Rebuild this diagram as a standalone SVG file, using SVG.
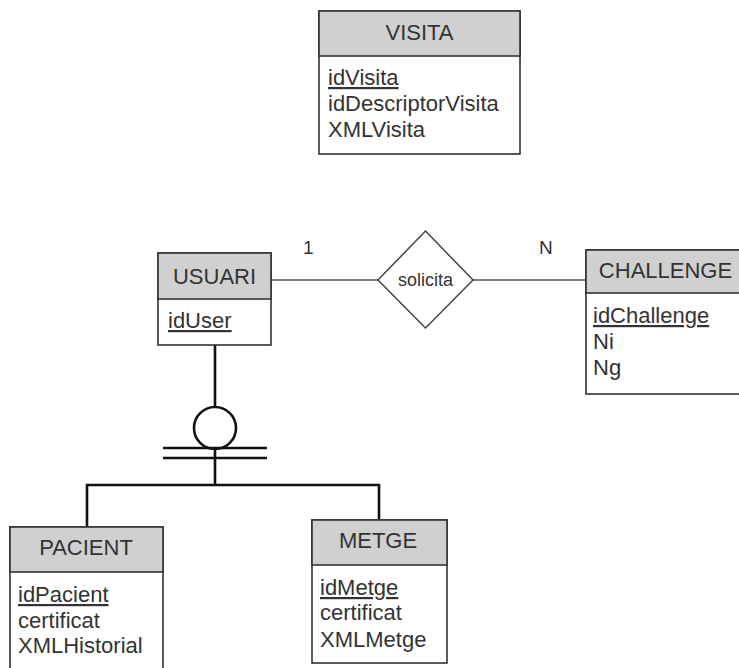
<svg xmlns="http://www.w3.org/2000/svg" width="739" height="668" viewBox="0 0 739 668">
  <style>
    .box { fill: #ffffff; stroke: #333333; stroke-width: 1.6; }
    .head { fill: #d0d0d0; stroke: #333333; stroke-width: 1.6; }
    .title { font-family: "Liberation Sans", Arial, sans-serif; font-size: 22px; fill: #333333; text-anchor: middle; }
    .attr { font-family: "Liberation Sans", Arial, sans-serif; font-size: 22px; fill: #333333; }
    .key { text-decoration: underline; }
    .rel { fill: #ffffff; stroke: #444444; stroke-width: 1.5; }
    .rel-label { font-family: "Liberation Sans", Arial, sans-serif; font-size: 18px; fill: #333333; text-anchor: middle; }
    .card { font-family: "Liberation Sans", Arial, sans-serif; font-size: 19px; fill: #333333; }
    .link { fill: none; stroke: #555555; stroke-width: 1.6; }
    .isa { fill: none; stroke: #111111; stroke-width: 2.6; }
  </style>

  <!-- connectors -->
  <g id="connectors">
    <line class="link" x1="271" y1="280" x2="378" y2="280"/>
    <line class="link" x1="473" y1="280" x2="586" y2="280"/>
    <text class="card" x="303" y="254">1</text>
    <text class="card" x="539" y="254">N</text>
    <!-- specialization of USUARI -->
    <line class="isa" x1="215" y1="345" x2="215" y2="407"/>
    <circle class="isa" cx="215" cy="428" r="21"/>
    <line class="isa" x1="163" y1="448" x2="267" y2="448"/>
    <line class="isa" x1="163" y1="458" x2="267" y2="458"/>
    <line class="isa" x1="215" y1="449" x2="215" y2="485"/>
    <polyline class="isa" points="87,527 87,485 379,485 379,520"/>
  </g>

  <g id="visita">
    <rect class="box" x="319" y="11" width="201" height="143"/>
    <rect class="head" x="319" y="11" width="201" height="45"/>
    <text class="title" x="419.5" y="40">VISITA</text>
    <text class="attr key" x="328" y="85">idVisita</text>
    <text class="attr" x="328" y="111">idDescriptorVisita</text>
    <text class="attr" x="328" y="137">XMLVisita</text>
  </g>

  <g id="usuari">
    <rect class="box" x="158" y="253" width="113" height="92"/>
    <rect class="head" x="158" y="253" width="113" height="46"/>
    <text class="title" x="214.5" y="284">USUARI</text>
    <text class="attr key" x="168" y="328">idUser</text>
  </g>

  <g id="solicita">
    <polygon class="rel" points="425.5,231 473,280 425.5,328 378,280"/>
    <text class="rel-label" x="425.5" y="286">solicita</text>
  </g>

  <g id="challenge">
    <rect class="box" x="586" y="250" width="160" height="144"/>
    <rect class="head" x="586" y="250" width="160" height="43"/>
    <text class="title" x="665.5" y="278">CHALLENGE</text>
    <text class="attr key" x="593" y="323">idChallenge</text>
    <text class="attr" x="593" y="349">Ni</text>
    <text class="attr" x="593" y="375">Ng</text>
  </g>

  <g id="pacient">
    <rect class="box" x="10" y="527" width="153" height="150"/>
    <rect class="head" x="10" y="527" width="153" height="45"/>
    <text class="title" x="86" y="555">PACIENT</text>
    <text class="attr key" x="18" y="602">idPacient</text>
    <text class="attr" x="18" y="628">certificat</text>
    <text class="attr" x="18" y="653">XMLHistorial</text>
  </g>

  <g id="metge">
    <rect class="box" x="312" y="520" width="135" height="143"/>
    <rect class="head" x="312" y="520" width="135" height="45"/>
    <text class="title" x="378" y="548">METGE</text>
    <text class="attr key" x="320" y="595">idMetge</text>
    <text class="attr" x="320" y="620">certificat</text>
    <text class="attr" x="320" y="647">XMLMetge</text>
  </g>
</svg>
